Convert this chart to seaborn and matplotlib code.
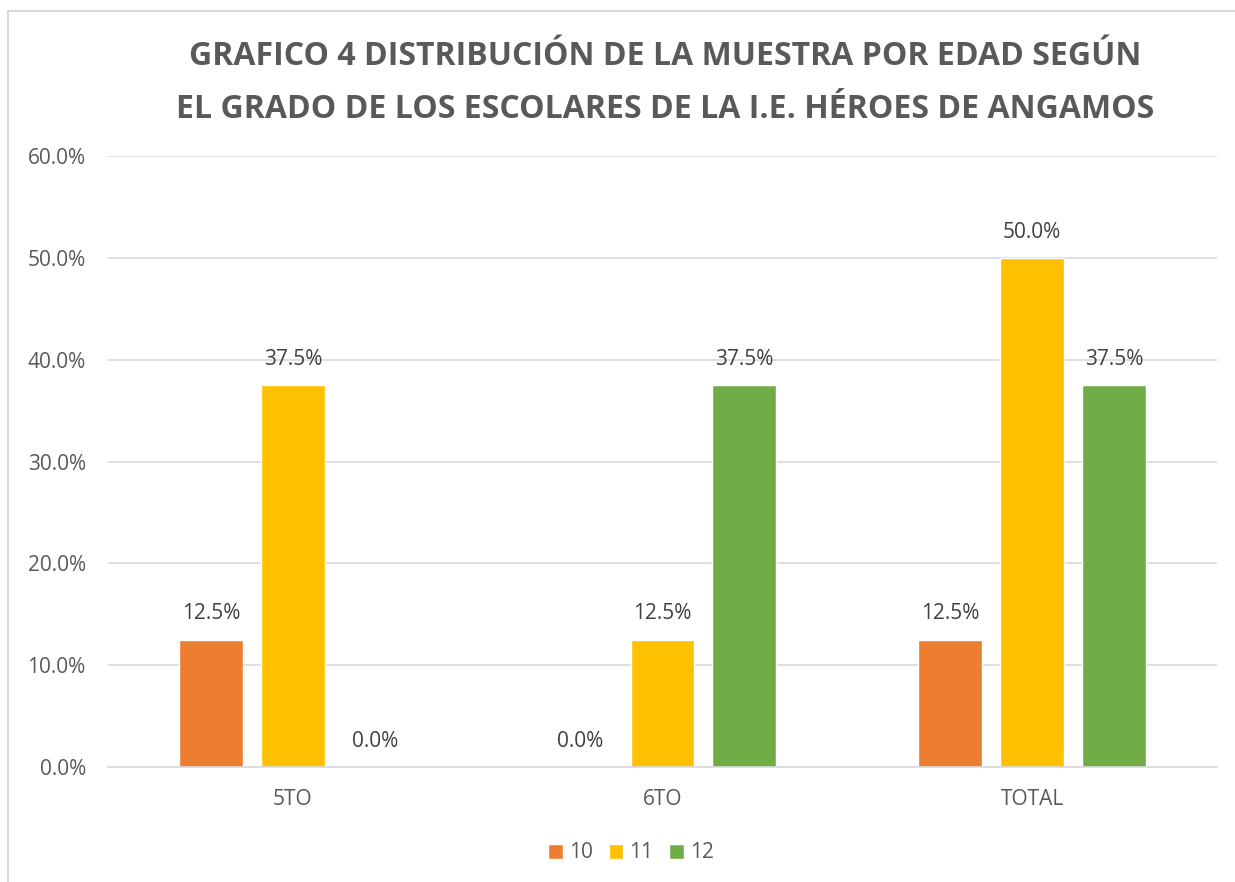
import matplotlib.pyplot as plt
import matplotlib.patches as mpatches
from matplotlib.ticker import FuncFormatter
import seaborn as sns
import pandas as pd

# data
grados = ["5TO", "6TO", "TOTAL"]
edades = ["10", "11", "12"]
pct_10 = [12.5, 0.0, 12.5]
pct_11 = [37.5, 12.5, 50.0]
pct_12 = [0.0, 37.5, 37.5]

colores = ["#ED7D31", "#FFC000", "#70AD47"]
gris = "#595959"

df = pd.DataFrame({
    "grado": grados * 3,
    "edad": [e for e in edades for _ in grados],
    "pct": pct_10 + pct_11 + pct_12,
})

sns.set_style("white")
plt.rcParams["font.family"] = ["Open Sans", "DejaVu Sans"]

fig = plt.figure(figsize=(12.35, 8.82), dpi=100)
ax = fig.add_axes([108 / 1235, 1 - 767 / 882, 1109 / 1235, 611 / 882])

sns.barplot(
    df,
    x="grado",
    y="pct",
    hue="edad",
    palette=colores,
    width=0.665,
    gap=0.22,
    saturation=1,
    ax=ax,
    legend=True,
)

ax.set_xlim(-0.5, 2.5)
ax.set_ylim(0, 60)
ax.set_yticks(range(0, 61, 10))
ax.yaxis.set_major_formatter(FuncFormatter(lambda v, _: f"{v:.1f}%"))
ax.grid(axis="y", color="#D9D9D9", linewidth=1.2)
ax.set_axisbelow(True)
for s in ["top", "right", "left"]:
    ax.spines[s].set_visible(False)
ax.spines["bottom"].set_color("#D9D9D9")
ax.spines["bottom"].set_linewidth(1.2)
ax.tick_params(axis="both", length=0, labelsize=15, labelcolor=gris)
ax.tick_params(axis="x", pad=16)
ax.tick_params(axis="y", pad=16)
ax.set_xlabel("")
ax.set_ylabel("")

for cont in ax.containers:
    ax.bar_label(cont, fmt="%.1f%%", padding=11, fontsize=15, color="#404040")

handles, labels = ax.get_legend_handles_labels()
ax.get_legend().remove()
fig.legend(
    handles=handles,
    labels=labels,
    loc="center",
    bbox_to_anchor=(631 / 1235, 1 - 853 / 882),
    ncol=3,
    frameon=False,
    fontsize=15,
    labelcolor=gris,
    handlelength=0.7,
    handleheight=0.7,
    handletextpad=0.3,
    columnspacing=0.75,
)

fig.text(
    665 / 1235, 1 - 83 / 882,
    "GRAFICO 4 DISTRIBUCIÓN DE LA MUESTRA POR EDAD SEGÚN\nEL GRADO DE LOS ESCOLARES DE LA I.E. HÉROES DE ANGAMOS",
    ha="center", va="center", fontsize=23, fontweight="bold", color=gris,
    linespacing=1.8,
)

# chart frame
fig.patches.append(mpatches.Rectangle(
    (8 / 1235, -0.05), 1.2, 1 - 11 / 882 + 0.05,
    transform=fig.transFigure, fill=False, edgecolor="#D9D9D9", linewidth=1.5,
))

fig.savefig("out.png", dpi=100)
